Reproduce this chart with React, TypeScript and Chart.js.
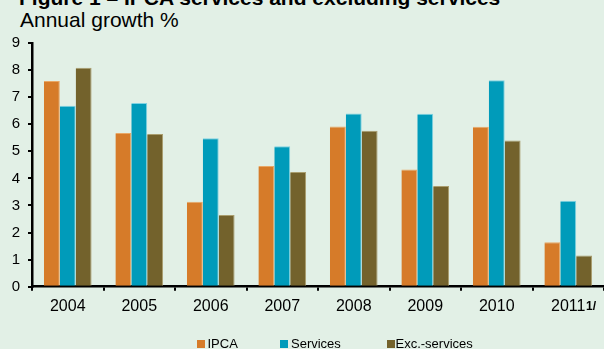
import React, { useEffect, useRef } from "react";
import { Chart, registerables } from "chart.js";

Chart.register(...registerables);

const titleText = "Figure 1 – IPCA services and excluding services";
const subtitleText = "Annual growth %";
const categories = ["2004", "2005", "2006", "2007", "2008", "2009", "2010", "2011"];
const ipcaValues = [7.6, 5.68, 3.14, 4.46, 5.92, 4.33, 5.91, 1.64];
const servicesValues = [6.68, 6.78, 5.48, 5.19, 6.4, 6.39, 7.62, 3.17];
const excServicesValues = [8.09, 5.64, 2.65, 4.24, 5.76, 3.72, 5.4, 1.15];
const seriesNames = ["IPCA", "Services", "Exc.-services"];
const yMin = 0;
const yMax = 9;
const lastLabelNote = "1/";

const BG = "#e2f0e6";
const COLORS = ["#d67b29", "#009bba", "#73622c"];
const EDGE = ["#e9a765", "#7fd2e2", "#a99d6d"];
const FONT = "'Liberation Sans', Arial, sans-serif";

const notePlugin = {
  id: "notePlugin",
  afterDraw(chart: any) {
    const x = chart.scales.x;
    const idx = categories.length - 1;
    const cx = x.getPixelForValue(idx);
    const ctx = chart.ctx;
    ctx.save();
    ctx.font = `16px ${FONT}`;
    const w = ctx.measureText(categories[idx]).width;
    ctx.font = `bold 12px ${FONT}`;
    ctx.fillStyle = "#000";
    ctx.textAlign = "left";
    ctx.textBaseline = "alphabetic";
    ctx.fillText(lastLabelNote, cx + w / 2 + 0.5, chart.chartArea.bottom + 23);
    ctx.restore();
  },
};

export default function App() {
  const ref = useRef<HTMLCanvasElement>(null);
  useEffect(() => {
    document.body.style.margin = "0";
    const values = [ipcaValues, servicesValues, excServicesValues];
    const chart = new Chart(ref.current!, {
      type: "bar",
      data: {
        labels: categories,
        datasets: seriesNames.map((name, i) => ({
          label: name,
          data: values[i],
          backgroundColor: COLORS[i],
          borderColor: EDGE[i],
          borderWidth: { top: 1, right: 1, left: 0, bottom: 0 },
          borderSkipped: false,
          categoryPercentage: 0.667,
          barPercentage: 1,
        })),
      },
      options: {
        animation: false,
        responsive: false,
        maintainAspectRatio: false,
        layout: { padding: { top: 43, left: 0, right: 0, bottom: 0 } },
        plugins: {
          legend: { display: false },
          tooltip: { enabled: false },
        },
        scales: {
          x: {
            afterFit: (s: any) => {
              s.height = 62.3;
            },
            grid: {
              display: true,
              drawOnChartArea: false,
              drawTicks: true,
              tickLength: 4,
              color: "#000",
              lineWidth: 2,
              offset: true,
            },
            border: { display: true, color: "#000", width: 2.5 },
            ticks: {
              color: "#000",
              font: { family: FONT, size: 16 },
              padding: 6,
              maxRotation: 0,
              autoSkip: false,
            },
          },
          y: {
            min: yMin,
            max: yMax,
            afterFit: (s: any) => {
              s.width = 32;
            },
            grid: {
              display: true,
              drawOnChartArea: false,
              drawTicks: true,
              tickLength: 4,
              color: "#000",
              lineWidth: 2,
            },
            border: { display: true, color: "#000", width: 2.5 },
            ticks: {
              stepSize: 1,
              color: "#000",
              font: { family: FONT, size: 15 },
              padding: 8,
            },
          },
        },
      },
      plugins: [notePlugin],
    });
    return () => chart.destroy();
  }, []);

  const legendPos = [
    { box: 197, text: 207.5 },
    { box: 280, text: 291 },
    { box: 386.5, text: 395.5 },
  ];

  return (
    <div
      style={{
        position: "fixed",
        left: 0,
        top: 0,
        width: 604,
        height: 349,
        background: BG,
        overflow: "hidden",
        fontFamily: FONT,
        color: "#000",
      }}
    >
      <div
        style={{
          position: "absolute",
          left: 19,
          top: -13.3,
          fontSize: 21,
          lineHeight: "21px",
          fontWeight: "bold",
          whiteSpace: "nowrap",
        }}
      >
        {titleText}
      </div>
      <div
        style={{
          position: "absolute",
          left: 20,
          top: 8.9,
          fontSize: 21,
          lineHeight: "21px",
          whiteSpace: "nowrap",
        }}
      >
        {subtitleText}
      </div>
      <canvas
        ref={ref}
        width={604}
        height={349}
        style={{ position: "absolute", left: 0, top: 0, width: 604, height: 349 }}
      />
      {seriesNames.map((name, i) => (
        <React.Fragment key={name}>
          <div
            style={{
              position: "absolute",
              left: legendPos[i].box,
              top: 339.5,
              width: 8,
              height: 8,
              background: COLORS[i],
            }}
          />
          <div
            style={{
              position: "absolute",
              left: legendPos[i].text,
              top: 336.5,
              fontSize: 13,
              lineHeight: "13px",
              whiteSpace: "nowrap",
            }}
          >
            {name}
          </div>
        </React.Fragment>
      ))}
    </div>
  );
}
